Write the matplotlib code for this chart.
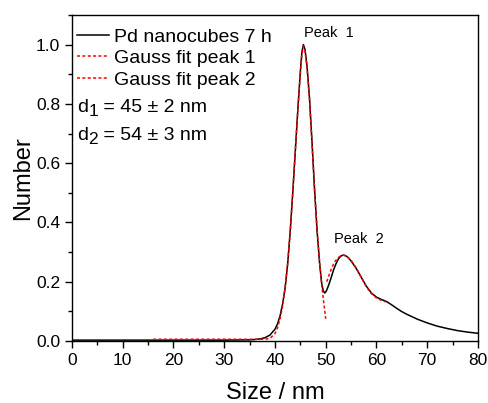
import matplotlib
matplotlib.use("Agg")
import matplotlib.pyplot as plt
from matplotlib.ticker import MultipleLocator, FormatStrFormatter

plt.rcParams['font.family'] = ['Liberation Sans', 'DejaVu Sans']

# Measured size distribution
size_nm = [0, 5, 10, 15, 20, 25, 30, 35, 36, 37, 38, 39, 40, 40.5, 41, 41.5, 42,
           42.5, 43, 43.5, 44, 44.5, 45, 45.3, 45.6, 45.9, 46.3, 46.8, 47.3, 47.8,
           48.3, 48.8, 49.2, 49.5, 49.8, 50.1, 50.5, 51, 51.5, 52, 52.5, 53, 53.5,
           54, 54.5, 55, 56, 57, 58, 59, 60, 61, 62, 63, 64, 65, 66, 67, 68, 70,
           72, 74, 76, 78, 80]
number = [0.003, 0.003, 0.003, 0.003, 0.003, 0.003, 0.003, 0.004, 0.005, 0.007,
          0.011, 0.02, 0.04, 0.058, 0.085, 0.125, 0.18, 0.26, 0.37, 0.5, 0.64,
          0.78, 0.91, 0.975, 1.0, 0.985, 0.93, 0.82, 0.67, 0.51, 0.37, 0.26, 0.195,
          0.17, 0.162, 0.168, 0.185, 0.21, 0.238, 0.26, 0.277, 0.287, 0.29, 0.287,
          0.28, 0.27, 0.245, 0.215, 0.185, 0.162, 0.148, 0.14, 0.133, 0.122, 0.11,
          0.099, 0.09, 0.082, 0.074, 0.061, 0.05, 0.042, 0.035, 0.03, 0.026]

# Gaussian fit of peak 1
fit1_x = [16, 20, 25, 30, 35, 38, 39, 40, 40.5, 41, 41.5, 42, 42.5, 43, 43.5, 44,
          44.5, 45, 45.3, 45.6, 45.9, 46.3, 46.8, 47.3, 47.8, 48.3, 48.8, 49.2,
          49.6, 50]
fit1_y = [0.006, 0.006, 0.006, 0.006, 0.006, 0.006, 0.009, 0.025, 0.045, 0.075,
          0.118, 0.18, 0.265, 0.37, 0.5, 0.64, 0.78, 0.905, 0.965, 0.995, 0.98,
          0.925, 0.815, 0.665, 0.51, 0.375, 0.265, 0.19, 0.13, 0.075]

# Gaussian fit of peak 2
fit2_x = [50.2, 50.7, 51.2, 51.8, 52.5, 53.2, 54, 55, 56, 57, 58, 59, 60, 61, 61.8]
fit2_y = [0.2, 0.225, 0.248, 0.268, 0.282, 0.29, 0.288, 0.272, 0.247, 0.215,
          0.183, 0.16, 0.145, 0.137, 0.132]

# Fitted mean diameters: (subscript, text after it)
diameters = [('1', ' = 45 ± 2 nm'), ('2', ' = 54 ± 3 nm')]

fig = plt.figure(figsize=(4.89, 4.03), dpi=100)
ax = fig.add_axes([0.1472, 0.1538, 0.8303, 0.809])

ax.plot(size_nm, number, color='black', lw=1.1, label='Pd nanocubes 7 h')
ax.plot(fit1_x, fit1_y, color='red', lw=1.1, ls=(0, (2, 1.5)), label='Gauss fit peak 1')
ax.plot(fit2_x, fit2_y, color='red', lw=1.1, ls=(0, (2, 1.5)), label='Gauss fit peak 2')

ax.set_xlim(0, 80)
ax.set_ylim(0, 1.1)
ax.xaxis.set_major_locator(MultipleLocator(10))
ax.xaxis.set_minor_locator(MultipleLocator(5))
ax.yaxis.set_major_locator(MultipleLocator(0.2))
ax.yaxis.set_minor_locator(MultipleLocator(0.1))
ax.yaxis.set_major_formatter(FormatStrFormatter('%.1f'))
ax.tick_params(which='both', direction='out', labelsize=12.5)
ax.tick_params(which='major', length=5, width=1)
ax.tick_params(which='minor', length=3, width=1)
for s in ax.spines.values():
    s.set_linewidth(1)

ax.set_xlabel('Size / nm', fontsize=17, labelpad=10)
ax.set_ylabel('Number', fontsize=17, labelpad=1)

ax.legend(loc='upper left', bbox_to_anchor=(0.012, 0.96), frameon=False,
          fontsize=14, handlelength=1.63, handletextpad=0.3, borderaxespad=0,
          borderpad=0, labelspacing=0.2)

# d1 / d2 annotations with large, lowered subscripts
for (sub, rest), ypos in zip(diameters, [0.703, 0.618]):
    t_d = ax.text(0.012, ypos, 'd', transform=ax.transAxes, fontsize=14,
                  ha='left', va='baseline')
    t_s = ax.annotate(sub, xy=(1, 0), xycoords=t_d, xytext=(0.3, -2.5),
                      textcoords='offset points', fontsize=12.5,
                      ha='left', va='bottom')
    ax.annotate(rest, xy=(1, 0), xycoords=t_s, xytext=(0, 2.5),
                textcoords='offset points', fontsize=14, ha='left', va='bottom')

ax.text(50.6, 1.038, 'Peak  1', fontsize=10.5, ha='center', va='center')
ax.text(56.6, 0.343, 'Peak  2', fontsize=10.5, ha='center', va='center')

fig.savefig('out.png', dpi=100)
